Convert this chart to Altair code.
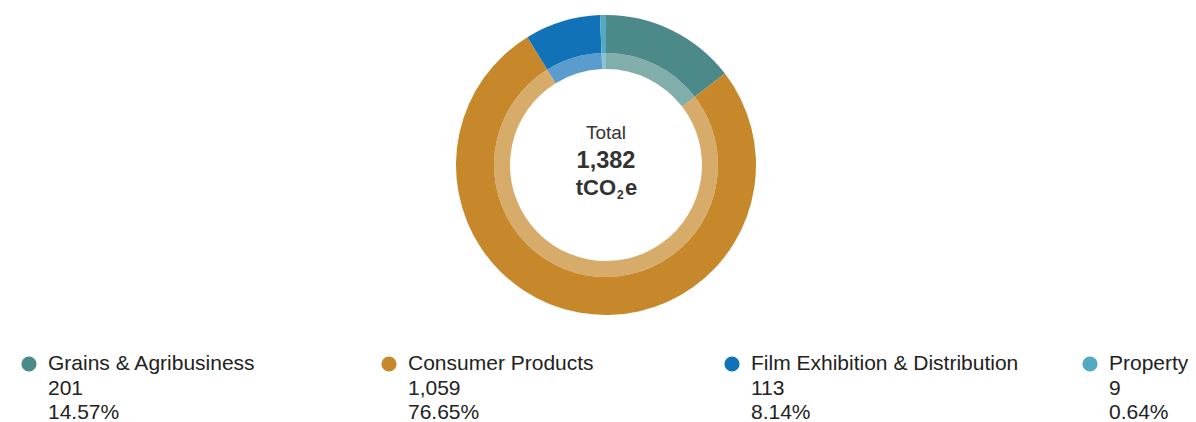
import altair as alt
import pandas as pd

categories = ["Grains & Agribusiness", "Consumer Products", "Film Exhibition & Distribution", "Property"]
values = [201, 1059, 113, 9]
shares = [14.57, 76.65, 8.14, 0.64]
colors = ["#4b8a88", "#c6882a", "#1272b8", "#53a9c1"]
total_label = "1,382"

df = pd.DataFrame({
    "cat": categories,
    "value": values,
    "share": shares,
    "order": list(range(len(categories))),
    "value_txt": [f"{v:,}" for v in values],
    "share_txt": [f"{s:.2f}%" for s in shares],
})

color = alt.Color("cat:N", scale=alt.Scale(domain=categories, range=colors), legend=None)
FONT = "Liberation Sans"
CX, CY = 598, 157

base = alt.Chart(df)

outer = base.mark_arc(radius=150, radius2=112).encode(
    theta=alt.Theta("share:Q", stack=True),
    order=alt.Order("order:Q"),
    color=color,
    x=alt.value(CX), y=alt.value(CY),
)
inner = base.mark_arc(radius=112, radius2=96, opacity=0.7).encode(
    theta=alt.Theta("share:Q", stack=True),
    order=alt.Order("order:Q"),
    color=color,
    x=alt.value(CX), y=alt.value(CY),
)

c1 = alt.Chart(pd.DataFrame({"t": ["Total"]})).mark_text(font=FONT, fontSize=19, color="#333333", baseline="middle", align="center").encode(
    text="t:N", x=alt.value(CX), y=alt.value(125))
c2 = alt.Chart(pd.DataFrame({"t": [total_label]})).mark_text(font=FONT, fontSize=23.5, fontWeight="bold", color="#333333", baseline="middle", align="center").encode(
    text="t:N", x=alt.value(CX), y=alt.value(153))
c3 = alt.Chart(pd.DataFrame({"t": ["tCO"]})).mark_text(font=FONT, fontSize=22, fontWeight="bold", color="#333333", baseline="middle", align="right").encode(
    text="t:N", x=alt.value(CX + 10), y=alt.value(180))
c4 = alt.Chart(pd.DataFrame({"t": ["2"]})).mark_text(font=FONT, fontSize=12, fontWeight="bold", color="#333333", baseline="middle", align="left").encode(
    text="t:N", x=alt.value(CX + 11), y=alt.value(187))
c5 = alt.Chart(pd.DataFrame({"t": ["e"]})).mark_text(font=FONT, fontSize=22, fontWeight="bold", color="#333333", baseline="middle", align="left").encode(
    text="t:N", x=alt.value(CX + 19), y=alt.value(180))

xleg = alt.X("order:Q", scale=alt.Scale(domain=[0, 1, 2, 3], range=[21, 381, 724, 1082], zero=False, nice=False), axis=None)

dots = base.mark_point(filled=True, shape="circle", size=230, opacity=1).encode(
    x=xleg, y=alt.value(356), color=color)
t1 = base.mark_text(font=FONT, fontSize=21, color="#222222", align="left", baseline="middle", dx=19).encode(
    x=xleg, y=alt.value(356), text="cat:N")
t2 = base.mark_text(font=FONT, fontSize=21, color="#222222", align="left", baseline="middle", dx=19).encode(
    x=xleg, y=alt.value(381), text="value_txt:N")
t3 = base.mark_text(font=FONT, fontSize=21, color="#222222", align="left", baseline="middle", dx=19).encode(
    x=xleg, y=alt.value(405), text="share_txt:N")

chart = alt.layer(outer, inner, c1, c2, c3, c4, c5, dots, t1, t2, t3).properties(
    width=1180, height=414, padding=0,
    autosize=alt.AutoSizeParams(type="none"),
).configure_view(stroke=None)

chart.save("out.html", embed_options={"renderer": "svg", "actions": False})
